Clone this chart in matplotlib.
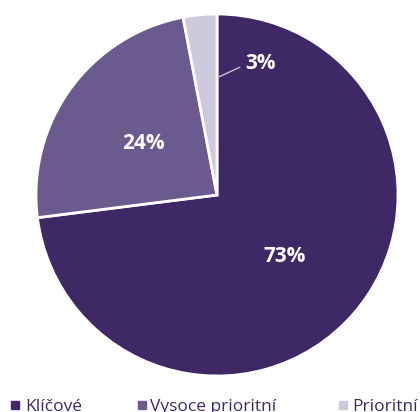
import numpy as np
import matplotlib
matplotlib.use("Agg")
import matplotlib.pyplot as plt
from matplotlib.patches import Rectangle

categories = ["Klíčové", "Vysoce prioritní", "Prioritní"]
values = [73, 24, 3]
colors = ["#3e2866", "#6b5a8e", "#cdc8dc"]

plt.rcParams['font.family'] = ['Open Sans', 'DejaVu Sans']

W, H = 420, 412
fig = plt.figure(figsize=(W / 100, H / 100), dpi=100)
cx, cy, r = 217, 195, 181
ax = fig.add_axes([(cx - r) / W, (H - cy - r) / H, 2 * r / W, 2 * r / H])

wedges, _ = ax.pie(values, colors=colors, startangle=90, counterclock=False,
                   radius=1, wedgeprops=dict(edgecolor="white", linewidth=2))
ax.set_xlim(-1, 1)
ax.set_ylim(-1, 1)
ax.set_aspect('equal')
ax.axis('off')

for w, v in zip(wedges, values):
    mid = np.deg2rad((w.theta1 + w.theta2) / 2)
    if v >= 10:
        ax.text(0.5 * np.cos(mid), 0.5 * np.sin(mid) - 0.01, f"{v}%", ha="center", va="center",
                color="white", fontsize=15, fontweight="bold")
    else:
        edge = np.deg2rad(w.theta1)
        x0, y0 = 0.65 * np.cos(edge) + 0.005, 0.65 * np.sin(edge)
        ax.annotate(f"{v}%", xy=(x0, y0), xytext=(x0 + 0.15, y0 + 0.075),
                    ha="left", va="center", color="white", fontsize=15, fontweight="bold",
                    arrowprops=dict(arrowstyle="-", color="#c9c5d8", lw=1,
                                    shrinkA=2, shrinkB=0, relpos=(0, 0.45)))

# legend
leg_x = [11, 138, 339]
text_dx = [14, 12, 13]
sq_top = 401
baseline = 411
for x, dx, c, name in zip(leg_x, text_dx, colors, categories):
    fig.patches.append(Rectangle((x / W, (H - sq_top - 8) / H), 8 / W, 8 / H,
                                 transform=fig.transFigure, color=c, figure=fig))
    fig.text((x + dx) / W, (H - baseline) / H, name, ha="left", va="baseline",
             fontsize=12.5, color="#3e2866")

fig.savefig("out.png", dpi=100)
